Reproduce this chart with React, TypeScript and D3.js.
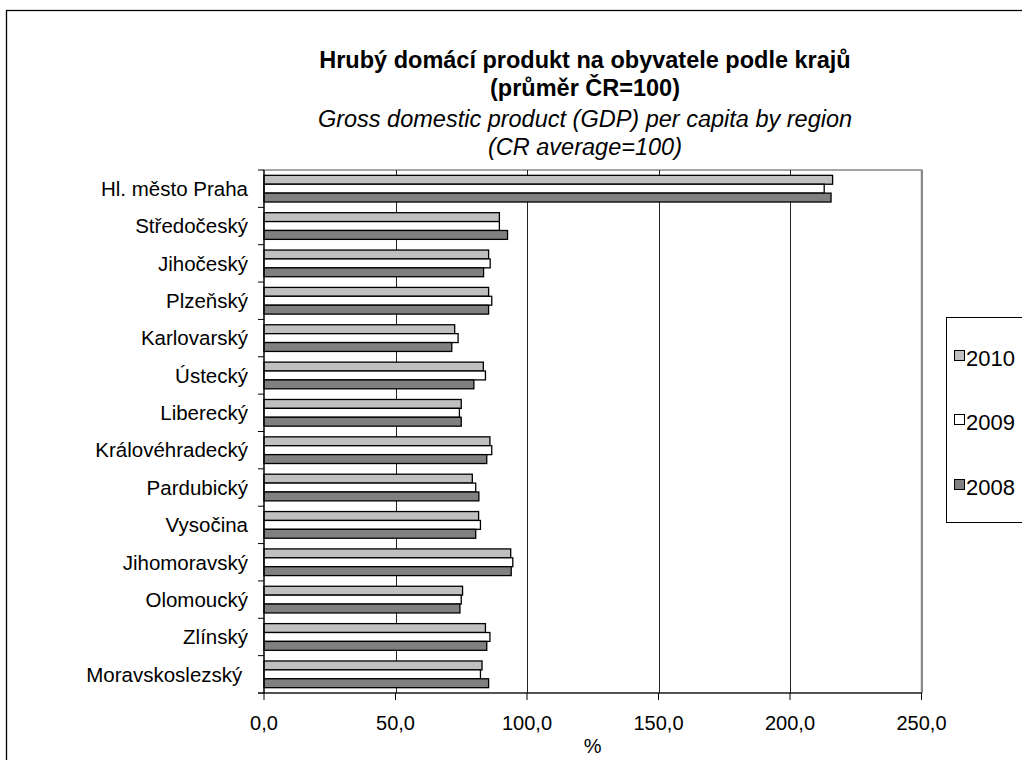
import React, { useEffect, useRef } from "react";
import * as d3 from "d3";

const regions = [
  "Hl. město Praha", "Středočeský", "Jihočeský", "Plzeňský", "Karlovarský",
  "Ústecký", "Liberecký", "Královéhradecký", "Pardubický", "Vysočina",
  "Jihomoravský", "Olomoucký", "Zlínský", "Moravskoslezský ",
];
const years = ["2010", "2009", "2008"];
const v2010 = [216.2, 89.5, 85.4, 85.4, 72.5, 83.4, 75.0, 85.9, 79.2, 81.6, 93.8, 75.5, 84.2, 82.9];
const v2009 = [213.0, 89.5, 86.0, 86.6, 73.8, 84.2, 74.3, 86.6, 80.5, 82.3, 94.6, 75.0, 85.9, 82.3];
const v2008 = [215.6, 92.6, 83.5, 85.4, 71.4, 79.8, 75.0, 84.7, 81.7, 80.5, 94.0, 74.5, 84.7, 85.4];
const xTicks = [0, 50, 100, 150, 200, 250];
const colors = ["#c0c0c0", "#ffffff", "#808080"];

export default function App() {
  const ref = useRef<SVGSVGElement>(null);
  useEffect(() => {
    const svg = d3.select(ref.current);
    svg.selectAll("*").remove();
    const font = "'Liberation Sans', Arial, sans-serif";
    const L = 264, R = 921.5, T = 170, B = 693;
    const x = d3.scaleLinear().domain([0, 250]).range([L, R]);
    const y = d3.scaleBand().domain(regions).range([T, B]).paddingInner(0).paddingOuter(0);
    const sub = d3.scaleBand().domain(years).range([0, y.bandwidth()]).paddingOuter(0.6).paddingInner(0);
    const series = [v2010, v2009, v2008];

    // outer border
    svg.append("rect").attr("x", 6.5).attr("y", 10.5).attr("width", 1030).attr("height", 770)
      .attr("fill", "white").attr("stroke", "#000").attr("stroke-width", 1.3);

    // plot border (gray)
    svg.append("rect").attr("x", L).attr("y", T).attr("width", R - L).attr("height", B - T)
      .attr("fill", "none").attr("stroke", "#888").attr("stroke-width", 1.5);

    // gridlines
    svg.append("g").selectAll("line").data(xTicks.slice(1)).join("line")
      .attr("x1", (d) => Math.round(x(d)) + 0.5).attr("x2", (d) => Math.round(x(d)) + 0.5)
      .attr("y1", T).attr("y2", B).attr("stroke", (d) => d === 250 ? "#888" : "#222").attr("stroke-width", 1);

    // bars
    series.forEach((vals, si) => {
      svg.append("g").selectAll("rect").data(vals).join("rect")
        .attr("x", x(0))
        .attr("y", (_d, i) => (y(regions[i]) as number) + (sub(years[si]) as number))
        .attr("width", (d) => x(d) - x(0))
        .attr("height", sub.bandwidth())
        .attr("fill", colors[si]).attr("stroke", "#000").attr("stroke-width", 1.3);
    });

    // axes lines
    svg.append("line").attr("x1", L).attr("x2", L).attr("y1", T).attr("y2", B + 0.5).attr("stroke", "#000").attr("stroke-width", 1.2);
    svg.append("line").attr("x1", L - 6).attr("x2", R).attr("y1", B).attr("y2", B).attr("stroke", "#000").attr("stroke-width", 1.2);

    // y ticks at band boundaries
    const bounds = regions.map((r) => y(r) as number).concat([B]);
    svg.append("g").selectAll("line").data(bounds).join("line")
      .attr("x1", L - 6).attr("x2", L).attr("y1", (d) => d).attr("y2", (d) => d)
      .attr("stroke", "#000").attr("stroke-width", 1);

    // x ticks
    svg.append("g").selectAll("line").data(xTicks).join("line")
      .attr("x1", (d) => x(d)).attr("x2", (d) => x(d)).attr("y1", B).attr("y2", B + 7)
      .attr("stroke", "#000").attr("stroke-width", 1);

    // y labels
    svg.append("g").selectAll("text").data(regions).join("text")
      .attr("x", 248).attr("y", (d) => (y(d) as number) + y.bandwidth() / 2 + 7.3)
      .attr("text-anchor", "end").attr("font-family", font).attr("font-size", 20.5)
      .style("white-space", "pre")
      .text((d) => d);

    // x labels
    svg.append("g").selectAll("text").data(xTicks).join("text")
      .attr("x", (d) => x(d)).attr("y", 730)
      .attr("text-anchor", "middle").attr("font-family", font).attr("font-size", 20)
      .text((d) => d3.format(".1f")(d).replace(".", ","));
    svg.append("text").attr("x", x(125)).attr("y", 753).attr("text-anchor", "middle")
      .attr("font-family", font).attr("font-size", 20).text("%");

    // titles
    const tx = 585;
    const titles = [
      { t: "Hrubý domácí produkt na obyvatele podle krajů", y: 68, bold: true },
      { t: "(průměr ČR=100)", y: 96, bold: true },
      { t: "Gross domestic product (GDP) per capita by region", y: 127, bold: false },
      { t: "(CR average=100)", y: 155, bold: false },
    ];
    svg.append("g").selectAll("text").data(titles).join("text")
      .attr("x", tx).attr("y", (d) => d.y).attr("text-anchor", "middle")
      .attr("font-family", font).attr("font-size", 23.5)
      .attr("font-weight", (d) => (d.bold ? "bold" : "normal"))
      .attr("font-style", (d) => (d.bold ? "normal" : "italic"))
      .text((d) => d.t);

    // legend
    svg.append("rect").attr("x", 946.5).attr("y", 317.5).attr("width", 100).attr("height", 205)
      .attr("fill", "white").attr("stroke", "#000").attr("stroke-width", 1);
    const ly = [366, 430, 495];
    const lg = svg.append("g").selectAll("g").data(years).join("g")
      .attr("transform", (_d, i) => `translate(954,${ly[i]})`);
    lg.append("rect").attr("x", 0.5).attr("y", -15.5).attr("width", 10).attr("height", 10)
      .attr("fill", (_d, i) => colors[i]).attr("stroke", "#000").attr("stroke-width", 1);
    lg.append("text").attr("x", 12).attr("y", 0).attr("font-family", font).attr("font-size", 22)
      .text((d) => d);
  }, []);
  return (
    <svg ref={ref} width={1022} height={760}
      style={{ position: "absolute", left: 0, top: 0, background: "white" }} />
  );
}
